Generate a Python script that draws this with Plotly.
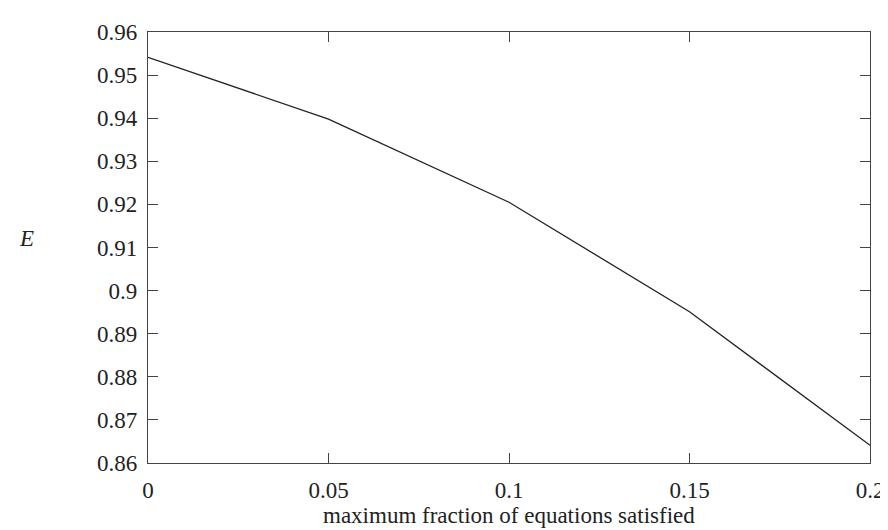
import plotly.graph_objects as go

fraction = [0.0, 0.05, 0.1, 0.15, 0.2]
E_values = [0.9541, 0.9398, 0.9205, 0.8951, 0.8641]
x_ticks = [0, 0.05, 0.1, 0.15, 0.2]
x_tick_labels = ["0", "0.05", "0.1", "0.15", "0.2"]
y_ticks = [0.86, 0.87, 0.88, 0.89, 0.9, 0.91, 0.92, 0.93, 0.94, 0.95, 0.96]
y_tick_labels = ["0.86", "0.87", "0.88", "0.89", "0.9", "0.91", "0.92", "0.93", "0.94", "0.95", "0.96"]

FONT = "Liberation Serif"

fig = go.Figure()
fig.add_trace(go.Scatter(x=fraction, y=E_values, mode="lines",
                         line=dict(color="#222222", width=1.3), showlegend=False))

axis_common = dict(showgrid=False, zeroline=False, showline=True, linecolor="#444444",
                   linewidth=1.3, mirror="ticks", ticks="inside", ticklen=10,
                   tickwidth=1.3, tickcolor="#444444",
                   tickfont=dict(family=FONT, size=23, color="#222222"))

fig.update_xaxes(range=[0, 0.2], tickvals=x_ticks, ticktext=x_tick_labels,
                 ticklabelstandoff=6, **axis_common)
fig.update_yaxes(range=[0.86, 0.96], tickvals=y_ticks, ticktext=y_tick_labels,
                 ticklabelstandoff=5, **axis_common)

fig.add_annotation(text="maximum fraction of equations satisfied", xref="paper", yref="paper",
                   x=0.5, y=-0.122, xanchor="center", yanchor="middle", showarrow=False,
                   font=dict(family=FONT, size=23, color="#222222"))
fig.add_annotation(text="<i>E</i>", xref="paper", yref="paper",
                   x=-0.168, y=0.52, xanchor="center", yanchor="middle", showarrow=False,
                   font=dict(family=FONT, size=23, color="#222222"))

fig.update_layout(width=888, height=530, margin=dict(l=140, r=21, t=14, b=75),
                  plot_bgcolor="white", paper_bgcolor="white")

fig.write_html("out.html")
